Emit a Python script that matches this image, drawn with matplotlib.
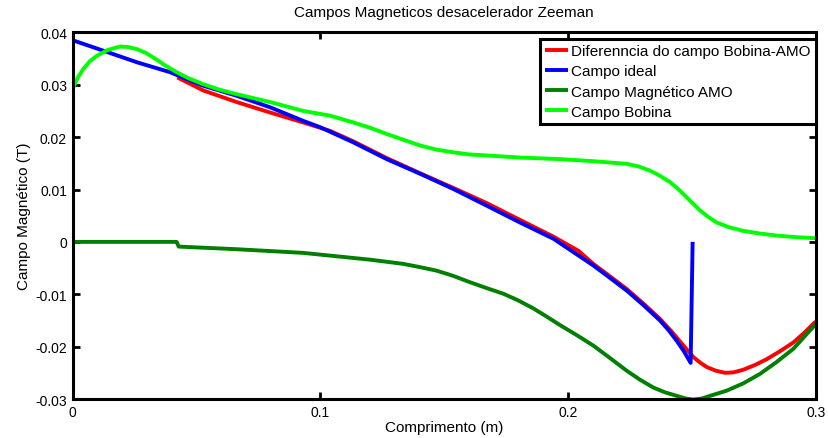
import matplotlib
matplotlib.use('Agg')
import matplotlib.pyplot as plt
import numpy as np

plt.rcParams['font.family'] = ['Liberation Sans', 'DejaVu Sans']

# Dados (x em m, campo em T)
x_dif = [0.0423, 0.0528, 0.0662, 0.0797, 0.0931, 0.1039, 0.1133, 0.1268, 0.1403,
         0.1537, 0.1672, 0.1806, 0.1941, 0.2042, 0.2102, 0.2170, 0.2237, 0.2305,
         0.2371, 0.2420, 0.2466, 0.2506, 0.2535, 0.2560, 0.2597, 0.2634, 0.2670,
         0.2708, 0.2755, 0.2802, 0.2855, 0.2910, 0.2955, 0.3000]
b_dif = [0.0314, 0.0289, 0.0267, 0.0247, 0.0228, 0.0212, 0.0192, 0.0160, 0.0131,
         0.0103, 0.0074, 0.0042, 0.0010, -0.0017, -0.0042, -0.0066, -0.0090, -0.0118,
         -0.0147, -0.0172, -0.0198, -0.0220, -0.0231, -0.0239, -0.0246, -0.0250, -0.0249,
         -0.0244, -0.0235, -0.0224, -0.0209, -0.0192, -0.0173, -0.0152]

x_ideal = [0.0, 0.0124, 0.0259, 0.0393, 0.0528, 0.0662, 0.0797, 0.0931, 0.0999,
           0.1133, 0.1268, 0.1403, 0.1537, 0.1672, 0.1806, 0.1941, 0.2042, 0.2102,
           0.2170, 0.2237, 0.2305, 0.2371, 0.2405, 0.2439, 0.2468, 0.2495, 0.2503]
b_ideal = [0.0385, 0.0365, 0.0343, 0.0324, 0.0298, 0.0279, 0.0257, 0.0231, 0.0219,
           0.0190, 0.0158, 0.0130, 0.0101, 0.0069, 0.0037, 0.0006, -0.0026, -0.0045,
           -0.0069, -0.0093, -0.0121, -0.0150, -0.0168, -0.0189, -0.0209, -0.0231, 0.0]

x_amo = [0.0, 0.0420, 0.0428, 0.0662, 0.0931, 0.1201, 0.1335, 0.1400, 0.1470,
         0.1537, 0.1604, 0.1670, 0.1739, 0.1800, 0.1860, 0.1915, 0.1968, 0.2035,
         0.2102, 0.2170, 0.2237, 0.2290, 0.2344, 0.2390, 0.2439, 0.2475, 0.2506,
         0.2540, 0.2573, 0.2641, 0.2708, 0.2775, 0.2843, 0.2910, 0.3000]
b_amo = [0.0, 0.0, -0.0009, -0.0014, -0.0021, -0.0034, -0.0042, -0.0048, -0.0055,
         -0.0065, -0.0077, -0.0088, -0.0099, -0.0112, -0.0127, -0.0143, -0.0159, -0.0178,
         -0.0198, -0.0222, -0.0246, -0.0263, -0.0278, -0.0287, -0.0294, -0.0299, -0.0301,
         -0.0299, -0.0294, -0.0284, -0.0270, -0.0252, -0.0229, -0.0204, -0.0157]

x_bob = [0.0, 0.0020, 0.0043, 0.0070, 0.0097, 0.0140, 0.0191, 0.0225, 0.0259,
         0.0295, 0.0326, 0.0370, 0.0420, 0.0470, 0.0528, 0.0590, 0.0662, 0.0797,
         0.0931, 0.1039, 0.1133, 0.1200, 0.1268, 0.1335, 0.1403, 0.1470, 0.1537,
         0.1600, 0.1672, 0.1806, 0.1968, 0.2102, 0.2237, 0.2285, 0.2331, 0.2372,
         0.2412, 0.2447, 0.2479, 0.2507, 0.2533, 0.2565, 0.2600, 0.2650, 0.2708,
         0.2775, 0.2843, 0.2920, 0.3000]
b_bob = [0.0292, 0.0313, 0.0330, 0.0345, 0.0355, 0.0366, 0.0373, 0.0372, 0.0368,
         0.0361, 0.0352, 0.0338, 0.0324, 0.0312, 0.0301, 0.0291, 0.0282, 0.0267,
         0.0250, 0.0241, 0.0228, 0.0218, 0.0206, 0.0195, 0.0184, 0.0176, 0.0171,
         0.0167, 0.0165, 0.0161, 0.0158, 0.0154, 0.0149, 0.0144, 0.0136, 0.0126,
         0.0114, 0.0100, 0.0085, 0.0072, 0.0060, 0.0048, 0.0037, 0.0028, 0.0021,
         0.0016, 0.0012, 0.0009, 0.0007]

fig = plt.figure(figsize=(8.29, 4.39), dpi=100)
ax = fig.add_axes([0.0876, 0.0888, 0.984 - 0.0876, 0.924 - 0.0888])

estilo = dict(lw=2.8, solid_joinstyle='round', solid_capstyle='butt')
ax.plot(x_dif, b_dif, color='#ff0000', label='Diferenncia do campo Bobina-AMO', **estilo)
ax.plot(x_ideal, b_ideal, color='#0000ff', label='Campo ideal', **estilo)
ax.plot(x_amo, b_amo, color='#008000', label='Campo Magnético AMO', **estilo)
ax.plot(x_bob, b_bob, color='#00ff00', label='Campo Bobina', **estilo)

ax.set_xlim(0, 0.3)
ax.set_ylim(-0.03, 0.04)
ax.set_xticks([0, 0.1, 0.2, 0.3])
ax.set_xticklabels(['0', '0.1', '0.2', '0.3'])
ax.set_yticks(np.arange(-0.03, 0.0401, 0.01))
ax.set_yticklabels(['-0.03', '-0.02', '-0.01', '0', '0.01', '0.02', '0.03', '0.04'])
ax.tick_params(direction='in', length=5, width=2, labelsize=10, pad=4,
               top=True, right=True)
for s in ax.spines.values():
    s.set_linewidth(2.2)

ax.set_title('Campos Magneticos desacelerador Zeeman', fontsize=11, pad=12)
ax.set_xlabel('Comprimento (m)', fontsize=11, labelpad=1)
ax.set_ylabel('Campo Magnético (T)', fontsize=11, labelpad=3)

leg = ax.legend(loc='upper right', bbox_to_anchor=(1.0, 0.982), borderaxespad=0,
                fontsize=11, handlelength=1.5, handletextpad=0.2, labelspacing=0.4,
                fancybox=False, framealpha=1, borderpad=0.35)
leg.get_frame().set_edgecolor('black')
leg.get_frame().set_linewidth(2.2)

fig.savefig('out.png', dpi=100)
